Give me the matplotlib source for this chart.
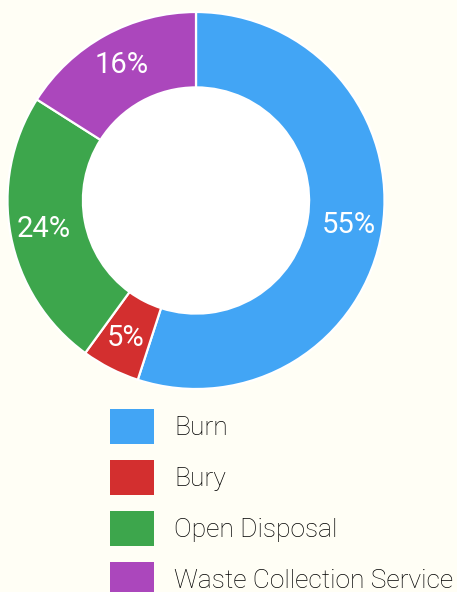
import matplotlib.pyplot as plt
from matplotlib.patches import Patch, Circle

plt.rcParams['font.family'] = ['Roboto', 'DejaVu Sans']

labels = ['Burn', 'Bury', 'Open Disposal', 'Waste Collection Service']
shares = [55, 5, 24, 16]
colors = ['#42A5F5', '#D32F2F', '#3DA64C', '#AB47BC']
bg = '#FFFEF5'

W, H = 457, 592
fig = plt.figure(figsize=(W / 100, H / 100), dpi=100, facecolor=bg)

# donut centre ~ (196, 200) px, outer radius ~188 px
cx, cy, r = 196, 200.5, 188.5
ax = fig.add_axes([(cx - r) / W, (H - cy - r) / H, 2 * r / W, 2 * r / H])
ax.set_facecolor(bg)

wedges, texts, autotexts = ax.pie(
    shares, colors=colors, startangle=90, counterclock=False, radius=1,
    autopct='%1.0f%%', pctdistance=0.82,
    wedgeprops=dict(width=0.4, edgecolor='white', linewidth=1.6),
    textprops=dict(color='white', fontsize=21))
ax.add_patch(Circle((0, 0), 0.6, facecolor='white', edgecolor='none', zorder=5))
ax.set_xlim(-1, 1)
ax.set_ylim(-1, 1)
ax.set_aspect('equal')
ax.axis('off')

handles = [Patch(facecolor=c, edgecolor='none') for c in colors]
fs = 19
px = fs * 100 / 72
hh = (35 / px - 0.245) / 0.65
fig.legend(handles, labels, loc='upper left',
           bbox_to_anchor=(110 / W, 1 - 409 / H),
           frameon=False, borderpad=0, borderaxespad=0,
           handlelength=44 / px, handleheight=hh,
           handletextpad=20 / px, labelspacing=16 / px,
           prop=dict(family='Roboto', weight='light', size=fs))

fig.savefig('out.png', dpi=100, facecolor=bg)
